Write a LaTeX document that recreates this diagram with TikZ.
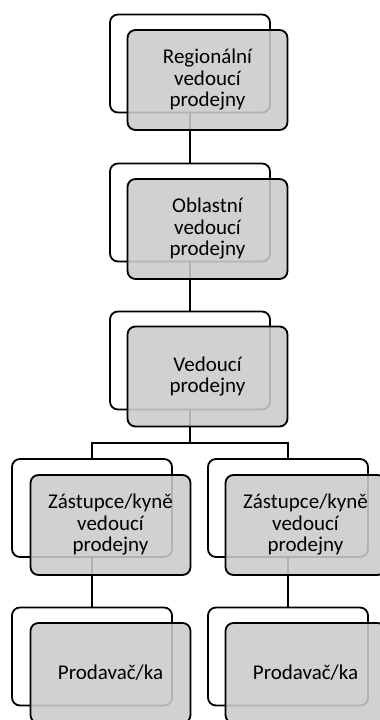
\documentclass[tikz,border=0pt]{standalone}
\usepackage{fontspec}
\setmainfont{Carlito}
\definecolor{boxgray}{RGB}{203,203,203}
\tikzset{
  backbox/.style={draw=black, line width=1.8pt, fill=white, rounded corners=8pt,
    minimum width=160pt, minimum height=98pt, inner sep=0pt},
  frontbox/.style={draw=black, line width=1.8pt, fill=boxgray, fill opacity=0.88,
    text opacity=1, rounded corners=8pt, minimum width=160pt, minimum height=100pt,
    inner sep=0pt, align=center, font=\fontsize{21}{21.5}\selectfont},
  link/.style={draw=black, line width=1.8pt}
}
\begin{document}
\begin{tikzpicture}[x=1pt,y=-1pt]
\useasboundingbox (0,0) rectangle (380,720);
\clip (0,0) rectangle (380,720);
% back boxes
\node[backbox] (b1) at (190,63.5) {};
\node[backbox] (b2) at (190,212.5) {};
\node[backbox] (b3) at (190,360.5) {};
\node[backbox] (b4) at (92,508) {};
\node[backbox] (b5) at (288,508) {};
\node[backbox] (b6) at (92,656.5) {};
\node[backbox] (b7) at (288,656.5) {};
% connectors
\coordinate (j) at (190,443);
\path[link] (b1.south) -- (b2.north);
\path[link] (b2.south) -- (b3.north);
\path[link] (b3.south) -- (j);
\path[link] (j) -| (b4.north);
\path[link] (j) -| (b5.north);
\path[link] (b4.south) -- (b6.north);
\path[link] (b5.south) -- (b7.north);
% front boxes
\node[frontbox] (f1) at (207.5,80) {Regionální\\vedoucí\\prodejny};
\node[frontbox] (f2) at (207.5,229) {Oblastní\\vedoucí\\prodejny};
\node[frontbox] (f3) at (207.5,376.5) {Vedoucí\\prodejny};
\node[frontbox] (f4) at (110.5,525) {Zástupce/kyně\\vedoucí\\prodejny};
\node[frontbox] (f5) at (305.5,525) {Zástupce/kyně\\vedoucí\\prodejny};
\node[frontbox] (f6) at (110.5,673) {Prodavač/ka};
\node[frontbox] (f7) at (305.5,673) {Prodavač/ka};
\end{tikzpicture}
\end{document}
